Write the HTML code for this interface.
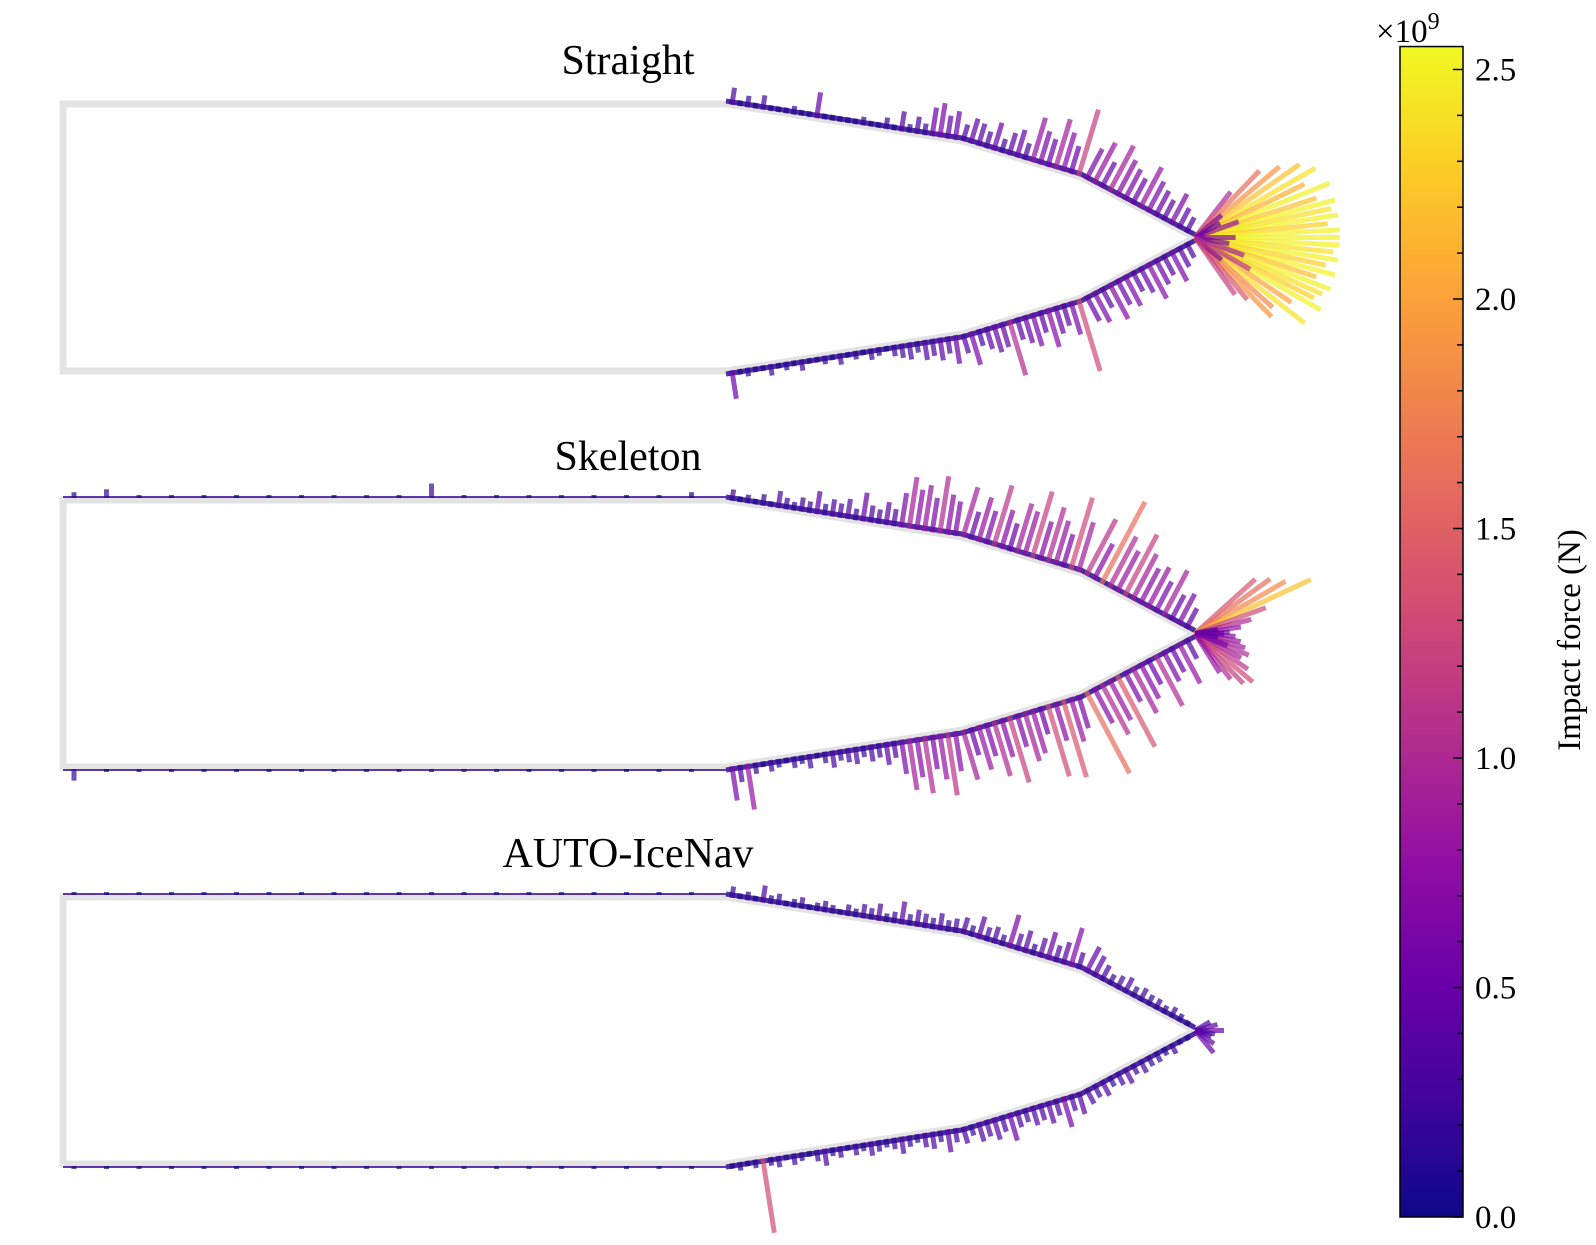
<!DOCTYPE html>
<html><head><meta charset="utf-8"><style>
html,body{margin:0;padding:0;background:#fff;}
svg{display:block;font-family:"Liberation Serif",serif;}
</style></head><body>
<svg id="chart" width="1596" height="1245" viewBox="0 0 1596 1245">
<defs>
<linearGradient id="plasma" x1="0" y1="1" x2="0" y2="0">
<stop offset="0" stop-color="#0d0887"/><stop offset="0.1" stop-color="#41049d"/><stop offset="0.2" stop-color="#6a00a8"/><stop offset="0.3" stop-color="#8f0da4"/><stop offset="0.4" stop-color="#b12a90"/><stop offset="0.5" stop-color="#cc4778"/><stop offset="0.6" stop-color="#e16462"/><stop offset="0.7" stop-color="#f2844b"/><stop offset="0.8" stop-color="#fca636"/><stop offset="0.9" stop-color="#fcce25"/><stop offset="1" stop-color="#f0f921"/>
</linearGradient>
<clipPath id="clip"><rect x="0" y="0" width="1340" height="1245"/></clipPath>
</defs>
<g id="panels" clip-path="url(#clip)"></g>
<g id="cbar"></g>
</svg>
<script>
const VMAX = 2.55;
const titles = ["Straight", "Skeleton", "AUTO-IceNav"];
const straightTop = [0.3,0.1,0.2,0.1,0.25,0.1,0.1,0.1,0.15,0.1,0.1,0.45,0.1,0.1,0.1,0.1,0.1,0.15,0.1,0.1,0.2,0.1,0.35,0.15,0.3,0.2,0.5,0.6,0.4,0.5,0.3,0.45,0.4,0.3,0.5,0.25,0.4,0.5,0.3,0.8,0.6,0.5,0.9,0.7,0.5,1.2,0.6,0.8,0.5,0.9,0.7,0.6,0.5,0.8,0.6,0.5,0.4,0.6,0.4,0.3];
const straightBottom = [0.5,0.1,0.15,0.1,0.1,0.2,0.1,0.15,0.1,0.2,0.1,0.1,0.15,0.1,0.2,0.1,0.15,0.1,0.2,0.15,0.1,0.2,0.25,0.3,0.2,0.35,0.3,0.4,0.3,0.5,0.35,0.6,0.3,0.4,0.5,0.45,1.0,0.4,0.5,0.6,0.4,0.7,0.5,0.4,0.6,1.3,0.5,0.6,0.4,0.7,0.5,0.6,0.4,0.5,0.7,0.5,0.4,0.6,0.4,0.3];
const straightFanAngles = [-52,-46,-40,-35,-30,-26,-22,-18,-15,-12,-9,-6,-3,0,3,6,9,12,15,18,21,24,27,30,34,38,42,46,50,-40,-20,0,20,40,55,-30,10,30];
const straightFanForces = [1.0,1.6,1.9,2.2,2.4,2.1,2.5,2.2,2.5,2.4,2.5,2.3,2.5,2.5,2.5,2.4,2.5,2.3,2.5,2.2,2.5,2.4,2.3,2.5,2.0,2.4,1.8,1.9,1.4,0.6,0.8,0.7,0.9,0.6,1.2,0.5,0.6,1.1];
const straightSternTop = [0,0,0,0,0,0,0,0,0,0,0,0,0,0,0,0,0,0,0,0];
const straightSternBottom = [0,0,0,0,0,0,0,0,0,0,0,0,0,0,0,0,0,0,0,0];
const skeletonTop = [0.2,0.1,0.15,0.1,0.2,0.1,0.3,0.2,0.15,0.25,0.2,0.4,0.2,0.3,0.25,0.35,0.2,0.5,0.3,0.25,0.4,0.3,0.6,0.9,0.7,0.8,0.6,1.0,0.7,0.6,0.9,0.5,0.8,0.6,1.1,0.7,0.5,0.9,0.8,1.2,0.7,1.0,0.8,0.6,1.3,0.9,1.1,0.7,1.6,1.0,0.8,1.2,0.9,0.7,0.8,0.6,0.9,0.5,0.6,0.4];
const skeletonBottom = [0.6,0.3,0.8,0.2,0.1,0.2,0.15,0.1,0.2,0.15,0.25,0.1,0.2,0.3,0.2,0.25,0.3,0.2,0.3,0.25,0.4,0.3,0.6,0.9,0.7,1.0,0.6,0.8,1.1,0.7,0.9,0.5,0.8,0.6,1.0,0.7,1.2,0.6,0.9,0.8,0.5,1.3,0.7,1.4,0.8,0.6,1.6,0.7,1.0,0.8,1.4,0.6,0.9,0.7,0.5,1.0,0.6,0.5,0.8,0.4];
const skeletonFanAngles = [-42,-36,-30,-25,-20,-14,-8,-2,4,10,16,22,28,34,40,46,52,58,-10,0,10,20];
const skeletonFanForces = [1.4,1.6,1.8,2.2,1.3,1.0,0.8,0.6,0.7,0.8,0.9,1.0,0.9,1.1,1.3,1.2,1.0,0.8,0.4,0.5,0.4,0.6];
const skeletonSternTop = [0.1,0.15,0.05,0.03,0.05,0.03,0.03,0.05,0.03,0.05,0.03,0.25,0.03,0.03,0.05,0.03,0.03,0.05,0.03,0.1];
const skeletonSternBottom = [0.2,0.03,0.03,0.05,0.03,0.03,0.03,0.03,0.03,0.03,0.03,0.03,0.03,0.03,0.03,0.03,0.05,0.03,0.05,0.03];
const iceTop = [0.2,0.1,0.15,0.1,0.3,0.15,0.2,0.1,0.15,0.2,0.1,0.15,0.2,0.15,0.1,0.2,0.15,0.25,0.2,0.3,0.15,0.2,0.4,0.2,0.3,0.25,0.2,0.3,0.2,0.25,0.3,0.2,0.4,0.25,0.3,0.2,0.6,0.3,0.4,0.2,0.35,0.5,0.3,0.4,0.7,0.3,0.5,0.4,0.3,0.2,0.25,0.3,0.2,0.25,0.2,0.2,0.15,0.2,0.15,0.1];
const iceBottom = [0.1,0.15,0.1,0.15,1.3,0.15,0.2,0.1,0.2,0.15,0.1,0.2,0.3,0.15,0.2,0.1,0.2,0.15,0.25,0.2,0.15,0.2,0.3,0.2,0.15,0.25,0.3,0.2,0.4,0.25,0.3,0.2,0.35,0.3,0.4,0.3,0.5,0.3,0.25,0.35,0.3,0.4,0.3,0.55,0.3,0.4,0.3,0.25,0.3,0.2,0.25,0.3,0.2,0.25,0.2,0.2,0.15,0.2,0.1,0.1];
const iceFanAngles = [-30,-15,0,10,20,35,50];
const iceFanForces = [0.3,0.4,0.5,0.35,0.3,0.4,0.5];
const iceSternTop = [0.03,0.03,0.03,0.03,0.03,0.03,0.03,0.03,0.03,0.03,0.03,0.03,0.03,0.03,0.03,0.03,0.03,0.03,0.03,0.03];
const iceSternBottom = [0.03,0.03,0.03,0.03,0.03,0.03,0.03,0.03,0.03,0.03,0.03,0.03,0.03,0.03,0.03,0.03,0.03,0.03,0.03,0.03];
const cbTicks = [0.0,0.5,1.0,1.5,2.0,2.5];

const panelsData = [
 {top:straightTop,bot:straightBottom,fa:straightFanAngles,ff:straightFanForces,st:straightSternTop,sb:straightSternBottom},
 {top:skeletonTop,bot:skeletonBottom,fa:skeletonFanAngles,ff:skeletonFanForces,st:skeletonSternTop,sb:skeletonSternBottom},
 {top:iceTop,bot:iceBottom,fa:iceFanAngles,ff:iceFanForces,st:iceSternTop,sb:iceSternBottom}
];
const tops = [104, 500, 897];
const H = 267, PX = 58;
const NS = "http://www.w3.org/2000/svg";
const stops = ["#0d0887","#41049d","#6a00a8","#8f0da4","#b12a90","#cc4778","#e16462","#f2844b","#fca636","#fcce25","#f0f921"];
function hex(c){return [1,3,5].map(i=>parseInt(c.substr(i,2),16));}
function plasma(v){let t=Math.max(0,Math.min(1,v/VMAX))*10;let i=Math.min(9,Math.floor(t)),f=t-i;
 const a=hex(stops[i]),b=hex(stops[i+1]);return "rgb("+a.map((x,k)=>Math.round(x+(b[k]-x)*f)).join(",")+")";}
function mk(tag,attrs,parent){const e=document.createElementNS(NS,tag);for(const k in attrs)e.setAttribute(k,attrs[k]);parent.appendChild(e);return e;}
const root=document.getElementById("panels");
panelsData.forEach((d,p)=>{
 const T=tops[p],B=T+H,M=T+H/2;
 const g=mk("g",{},root);
 
 
 const topPts=[[63,T],[726,T],[962,T+37],[1081,T+73],[1195,M]];
 const botPts=[[1195,M],[1081,B-73],[962,B-37],[726,B],[63,B]];
 const hull=mk("polygon",{points:topPts.concat(botPts.slice(1)).map(q=>q.join(",")).join(" "),fill:"none",stroke:"#e3e3e3","stroke-width":7,"stroke-linejoin":"miter"},g);
 
 
 const t=mk("text",{x:628,y:T-30,"font-size":42,"text-anchor":"middle",fill:"#000"},g);
 t.textContent=titles[p];
 
 
 function edge(pts,x,sign){for(let i=0;i<pts.length-1;i++){const a=pts[i],b=pts[i+1];const lo=Math.min(a[0],b[0]),hi=Math.max(a[0],b[0]);
   if(x>=lo&&x<=hi){const f=(x-a[0])/(b[0]-a[0]||1);const y=a[1]+(b[1]-a[1])*f;let dx=b[0]-a[0],dy=b[1]-a[1];const L=Math.hypot(dx,dy);
     let nx=dy/L,ny=-dx/L; if(ny*sign>0){nx=-nx;ny=-ny;} return [x,y,nx,ny];}} return [x,pts[0][1],0,-sign];}
 function line(x0,y0,nx,ny,v){const L=Math.max(3,v*PX);
   const l=mk("line",{x1:x0,y1:y0,x2:x0+nx*L,y2:y0+ny*L,stroke:plasma(v),"stroke-width":5,"stroke-opacity":0.7},g);
   
   }
 mk("polyline",{points:topPts.slice(1).map(q=>[q[0],q[1]-3].join(",")).join(" "),fill:"none",stroke:"#2d0a8f","stroke-width":5,"stroke-opacity":0.85},g);
 mk("polyline",{points:botPts.slice(0,4).map(q=>[q[0],q[1]+3].join(",")).join(" "),fill:"none",stroke:"#2d0a8f","stroke-width":5,"stroke-opacity":0.85},g);
 if(p>0){
  mk("line",{x1:63,y1:T-3,x2:726,y2:T-3,stroke:"#3a0a9a","stroke-width":2,"stroke-opacity":0.8},g);
  mk("line",{x1:63,y1:B+3,x2:726,y2:B+3,stroke:"#3a0a9a","stroke-width":2,"stroke-opacity":0.8},g);
 }
 d.st.forEach((v,i)=>{if(v>0){const x=66+i*(650/d.st.length)+8;line(x,T-2,0,-1,v);}});
 d.sb.forEach((v,i)=>{if(v>0){const x=66+i*(650/d.sb.length)+8;line(x,B+2,0,1,v);}});
 const n=d.top.length;
 d.top.forEach((v,i)=>{const x=728+(i+0.5)*(462/n);const e=edge(topPts,x,1);line(e[0],e[1],e[2],e[3],v);});
 d.bot.forEach((v,i)=>{const x=728+(i+0.5)*(462/d.bot.length);const e=edge(botPts,x,-1);line(e[0],e[1],e[2],e[3],v);});
 d.fa.forEach((a,i)=>{const r=a*Math.PI/180;line(1195,M,Math.cos(r),Math.sin(r),d.ff[i]);});
});
const cb=document.getElementById("cbar");
const cx=1400,cw=63,cy0=1217,pxu=459;
const cyTop=cy0-VMAX*pxu;
const r=mk("rect",{x:cx,y:cyTop,width:cw,height:cy0-cyTop,fill:"url(#plasma)",stroke:"#000","stroke-width":1.5},cb);


for(let k=0;k<=25;k++){const v=k/10;const y=cy0-v*pxu;const major=k%5===0;
 mk("line",{x1:cx+cw-(major?10:6),x2:cx+cw,y1:y,y2:y,stroke:"#000","stroke-width":1.5},cb);}
cbTicks.forEach(v=>{const y=cy0-v*pxu;const t=mk("text",{x:cx+cw+12,y:y+11,"font-size":33,fill:"#000"},cb);
 t.textContent=v.toFixed(1);
 
 });
const ex=mk("text",{x:1376,y:42,"font-size":33,fill:"#000"},cb);
ex.innerHTML='×10<tspan dy="-13" font-size="24">9</tspan>';


const lab=mk("text",{x:0,y:0,"font-size":33,fill:"#000","text-anchor":"middle",transform:"translate(1580,640) rotate(-90)"},cb);
lab.textContent="Impact force (N)";


</script>
</body></html>
